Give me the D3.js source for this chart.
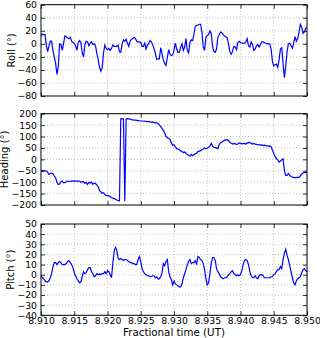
<!DOCTYPE html>
<html>
<head>
<meta charset="utf-8">
<script src="https://cdn.jsdelivr.net/npm/d3@7"></script>
<style>
body { margin: 0; background: #fff; }
text { font-family: "DejaVu Sans", sans-serif; fill: #000; }
</style>
</head>
<body>
<script>
// sample times (fractional hours UT)
var time = [
 8.9100,8.9102,8.9104,8.9106,8.9108,8.9110,8.9112,8.9114,8.9116,8.9118,
 8.9120,8.9122,8.9124,8.9126,8.9128,8.9130,8.9132,8.9134,8.9136,8.9138,
 8.9140,8.9142,8.9144,8.9146,8.9148,8.9150,8.9152,8.9154,8.9156,8.9158,
 8.9160,8.9162,8.9164,8.9166,8.9168,8.9170,8.9172,8.9174,8.9176,8.9178,
 8.9180,8.9182,8.9184,8.9186,8.9188,8.9190,8.9192,8.9194,8.9196,8.9198,
 8.9200,8.9202,8.9204,8.9206,8.9208,8.9210,8.9212,8.9214,8.9216,8.9218,
 8.9220,8.9222,8.9224,8.9226,8.9228,8.9230,8.9232,8.9234,8.9236,8.9238,
 8.9240,8.9242,8.9244,8.9246,8.9248,8.9250,8.9252,8.9254,8.9256,8.9258,
 8.9260,8.9262,8.9264,8.9266,8.9268,8.9270,8.9272,8.9274,8.9276,8.9278,
 8.9280,8.9282,8.9284,8.9286,8.9288,8.9290,8.9292,8.9294,8.9296,8.9298,
 8.9300,8.9302,8.9304,8.9306,8.9308,8.9310,8.9312,8.9314,8.9316,8.9318,
 8.9320,8.9322,8.9324,8.9326,8.9328,8.9330,8.9332,8.9334,8.9336,8.9338,
 8.9340,8.9342,8.9344,8.9346,8.9348,8.9350,8.9352,8.9354,8.9356,8.9358,
 8.9360,8.9362,8.9364,8.9366,8.9368,8.9370,8.9372,8.9374,8.9376,8.9378,
 8.9380,8.9382,8.9384,8.9386,8.9388,8.9390,8.9392,8.9394,8.9396,8.9398,
 8.9400,8.9402,8.9404,8.9406,8.9408,8.9410,8.9412,8.9414,8.9416,8.9418,
 8.9420,8.9422,8.9424,8.9426,8.9428,8.9430,8.9432,8.9434,8.9436,8.9438,
 8.9440,8.9442,8.9444,8.9446,8.9448,8.9450,8.9452,8.9454,8.9456,8.9458,
 8.9460,8.9462,8.9464,8.9466,8.9468,8.9470,8.9472,8.9474,8.9476,8.9478,
 8.9480,8.9482,8.9484,8.9486,8.9488,8.9490,8.9492,8.9494,8.9496,8.9498,
 8.9500];

var roll = [
 12,15,14,14,-2,-12,-3,4,4,-11,
 -20,-30,-47,-35,0,-1,-10,1,12,11,
 9,8,10,4,2,1,-3,-10,2,5,
 2,-14,-20,-1,4,3,-3,1,3,-1,
 0,-3,-15,-24,-36,-42,-37,-14,-2,-7,
 -9,-7,-10,-7,-2,-4,-4,-4,-2,-12,
 -13,0,6,4,7,1,-4,4,7,8,
 10,8,4,3,3,2,-4,-4,1,-8,
 -2,1,5,3,-2,-7,-15,-24,-23,-23,
 -6,-15,-25,-30,-33,-21,-9,-16,-18,-17,
 -10,1,-8,-13,-13,-5,0,-10,-5,8,
 -10,-14,2,6,5,15,27,28,29,30,
 30,18,-5,-10,10,13,14,20,16,-4,
 -12,-13,-8,10,14,18,17,14,12,11,
 9,0,-12,-16,-12,-4,-5,-9,2,4,
 2,1,1,1,3,8,-3,-5,3,-1,
 -10,-8,-3,-1,-5,-1,3,3,2,1,
 0,0,0,-8,-27,-34,-32,-31,-36,-25,
 -8,-6,-30,-52,-35,-12,0,1,-3,-7,
 1,11,4,8,18,30,26,16,18,24,
 25];

var heading = [
 -50,-49,-49,-50,-51,-57,-66,-62,-60,-63,
 -73,-81,-100,-110,-108,-98,-96,-103,-102,-98,
 -95,-97,-96,-95,-95,-94,-95,-95,-95,-95,
 -100,-99,-98,-105,-102,-110,-101,-104,-100,-109,
 -104,-106,-113,-120,-136,-143,-149,-146,-153,-159,
 -159,-160,-163,-168,-170,-172,-175,-178,-181,-182,
 177,177,177,-183,177,178,177,176,174,173,
 172,172,171,170,169,168,168,167,168,166,
 165,165,164,162,164,161,160,161,156,151,
 143,135,127,116,100,95,92,88,72,62,
 64,55,47,45,42,37,34,30,32,27,
 21,17,15,22,16,20,24,27,34,36,
 38,42,45,51,46,49,53,58,70,57,
 53,51,50,46,66,72,76,80,83,85,
 86,82,75,70,67,70,68,66,67,72,
 70,68,69,70,67,71,73,74,70,67,
 70,67,66,63,65,62,63,60,62,60,
 59,58,59,56,40,26,13,3,-3,-12,
 -7,-2,2,-48,-70,-70,-62,-70,-75,-78,
 -80,-80,-80,-78,-80,-72,-64,-60,-58,-57,
 -57];

var pitch = [
 -1,-3,-4,-6,-7,-7,-6,-3,1,8,
 12,12,10,12,13,12,10,10,10,11,
 13,14,12,10,7,2,-1,-4,-6,-8,
 -7,-2,3,1,2,5,7,7,3,1,
 -2,-1,1,0,1,0,1,1,3,1,
 4,3,0,-3,11,23,27,24,16,15,
 16,15,14,15,15,14,13,12,12,11,
 11,10,10,15,18,13,6,3,1,0,
 -1,-1,-2,-2,-1,-1,-3,-2,-4,-4,
 -2,2,11,9,13,15,3,-2,-5,-10,
 -6,-9,-10,-11,-12,-12,-9,-3,1,5,
 10,13,15,11,12,12,14,10,18,17,
 15,14,11,5,-4,-10,-8,1,11,17,
 17,14,6,3,1,-2,-3,-4,-3,-3,
 -2,0,1,3,4,1,0,-1,0,-1,
 0,4,10,14,15,14,10,3,-1,-3,
 -3,-1,-3,-4,-1,0,0,-1,-3,-3,
 -3,-3,-3,-2,-2,0,1,3,5,5,
 8,6,15,21,25,19,15,9,3,-3,
 -8,-10,-6,-4,-3,-2,2,5,6,4,
 3];

var xTicks = [8.910, 8.915, 8.920, 8.925, 8.930, 8.935, 8.940, 8.945, 8.950];
var rollTicks = [-80, -60, -40, -20, 0, 20, 40, 60];
var headingTicks = [-200, -150, -100, -50, 0, 50, 100, 150, 200];
var pitchTicks = [-40, -30, -20, -10, 0, 10, 20, 30, 40, 50];
var yLabels = ["Roll (°)", "Heading (°)", "Pitch (°)"];
var xLabel = "Fractional time (UT)";

var W = 320, H = 338;
var left = 41, right = 307;

var panels = [
  {values: roll, ticks: rollTicks, label: yLabels[0], top: 4.7, bottom: 96, labelX: 11},
  {values: heading, ticks: headingTicks, label: yLabels[1], top: 113.7, bottom: 205, labelX: 4.5},
  {values: pitch, ticks: pitchTicks, label: yLabels[2], top: 224, bottom: 315.3, labelX: 10.5}
];

var svg = d3.select("body").append("svg")
    .attr("width", W)
    .attr("height", H);

svg.append("rect").attr("width", W).attr("height", H).attr("fill", "#fff");

var x = d3.scaleLinear().domain([8.910, 8.950]).range([left, right]);

panels.forEach(function(p, i) {
  var y = d3.scaleLinear()
      .domain([p.ticks[0], p.ticks[p.ticks.length - 1]])
      .range([p.bottom, p.top]);

  var g = svg.append("g");

  // grid
  g.selectAll(".vg").data(xTicks.slice(1, -1)).enter().append("line")
      .attr("x1", function(d) { return x(d); }).attr("x2", function(d) { return x(d); })
      .attr("y1", p.top).attr("y2", p.bottom)
      .attr("stroke", "#b0b0b0").attr("stroke-width", 0.8)
      .attr("stroke-dasharray", "1,2");
  g.selectAll(".hg").data(p.ticks.slice(1, -1)).enter().append("line")
      .attr("x1", left).attr("x2", right)
      .attr("y1", function(d) { return y(d); }).attr("y2", function(d) { return y(d); })
      .attr("stroke", "#b0b0b0").attr("stroke-width", 0.8)
      .attr("stroke-dasharray", "1,2");

  // data line
  var line = d3.line()
      .x(function(d, j) { return x(time[j]); })
      .y(function(d) { return y(d); });
  g.append("path")
      .datum(p.values)
      .attr("fill", "none")
      .attr("stroke", "#0000ff")
      .attr("stroke-width", 1.2)
      .attr("d", line);

  // axes with inward ticks
  var yAxisL = d3.axisLeft(y).tickValues(p.ticks).tickSizeInner(-4).tickSizeOuter(0).tickPadding(4)
      .tickFormat(function(d) { return d < 0 ? "\u2212" + Math.abs(d) : d; });
  g.append("g").attr("transform", "translate(" + left + ",0)").call(yAxisL);
  var yAxisR = d3.axisRight(y).tickValues(p.ticks).tickSizeInner(-4).tickSizeOuter(0).tickFormat("");
  g.append("g").attr("transform", "translate(" + right + ",0)").call(yAxisR);

  var xAxisB = d3.axisBottom(x).tickValues(xTicks).tickSizeInner(-4).tickSizeOuter(0).tickPadding(2.5)
      .tickFormat(i === 2 ? d3.format(".3f") : function() { return ""; });
  g.append("g").attr("transform", "translate(0," + p.bottom + ")").call(xAxisB);
  var xAxisT = d3.axisTop(x).tickValues(xTicks).tickSizeInner(-4).tickSizeOuter(0).tickFormat("");
  g.append("g").attr("transform", "translate(0," + p.top + ")").call(xAxisT);

  g.selectAll(".domain").remove();
  g.selectAll(".tick line").attr("stroke", "#000").attr("stroke-width", 0.8);
  g.selectAll(".tick text")
      .style("font-family", "DejaVu Sans, sans-serif")
      .style("font-size", "9.3px")
      .attr("fill", "#000");

  // frame
  g.append("rect")
      .attr("x", left).attr("y", p.top)
      .attr("width", right - left).attr("height", p.bottom - p.top)
      .attr("fill", "none").attr("stroke", "#000").attr("stroke-width", 1);

  // y label
  g.append("text")
      .attr("transform", "translate(" + (p.labelX + 3.5) + "," + ((p.top + p.bottom) / 2) + ") rotate(-90)")
      .attr("text-anchor", "middle")
      .style("font-size", "10px")
      .text(p.label);
});

svg.append("text")
    .attr("x", (left + right) / 2)
    .attr("y", 335.5)
    .attr("text-anchor", "middle")
    .style("font-size", "10.3px")
    .text(xLabel);
</script>
</body>
</html>
